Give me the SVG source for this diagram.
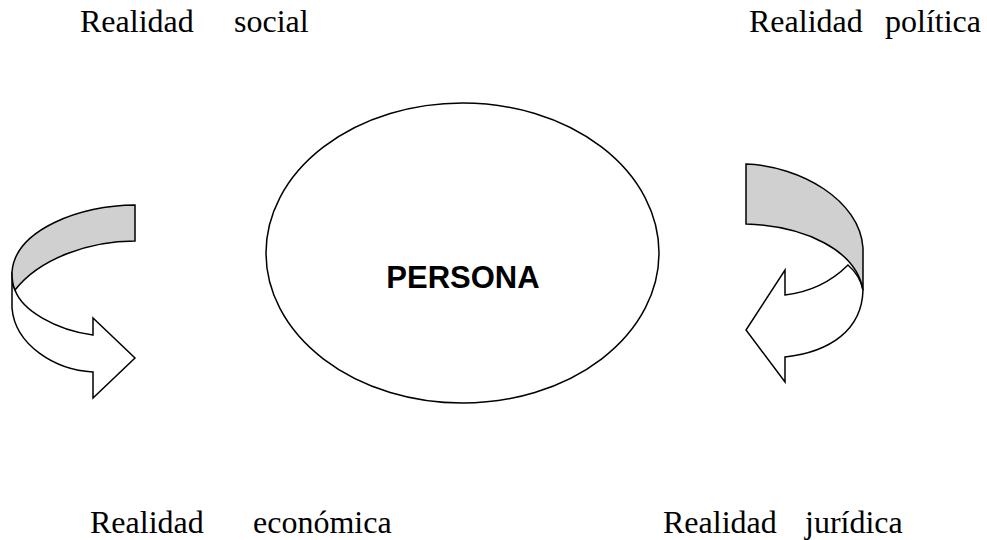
<svg xmlns="http://www.w3.org/2000/svg" width="987" height="540" viewBox="0 0 987 540">
<style>
.lbl{font-family:"Liberation Serif","Times New Roman",serif;font-size:32px;fill:#000}
.ttl{font-family:"Liberation Sans",Arial,sans-serif;font-size:31px;font-weight:bold;fill:#000}
.ln{stroke:#000;stroke-width:1.5;stroke-linejoin:miter}
.gray{fill:#d0d0d0}
.white{fill:#fff}
</style>
<rect width="987" height="540" fill="#fff"/>
<g id="persona">
<ellipse cx="462.5" cy="253" rx="196.5" ry="150" fill="#fff" stroke="#000" stroke-width="1.5"/>
<text class="ttl" x="463" y="288" text-anchor="middle">PERSONA</text>
</g>
<g id="label-social"><text class="lbl" x="80" y="32">Realidad</text><text class="lbl" x="234" y="32">social</text></g>
<g id="label-politica"><text class="lbl" x="749" y="32">Realidad</text><text class="lbl" x="885" y="32">política</text></g>
<g id="label-economica"><text class="lbl" x="90" y="533">Realidad</text><text class="lbl" x="253" y="533">económica</text></g>
<g id="label-juridica"><text class="lbl" x="663" y="533">Realidad</text><text class="lbl" x="805" y="533">jurídica</text></g>
<g id="connectors">
<g id="arrow-left">
<path class="ln white" d="M12,272 L12,308 C15,345 55,370 93,372 L93,398 L135,358 L93,318 L93,335 C55,330 22,310 15,290 C13,286 12,280 12,272 Z"/>
<path class="ln gray" d="M135,205 C80,205 15,230 12,272 C12,280 13,286 15,290 C40,258 90,241 135,241 Z"/>
</g>
<g id="arrow-right">
<path class="ln white" d="M848,265 C830,283 810,292 785,295 L785,270 L746,330 L785,382 L785,357 C830,352 862,330 863,290 C861,280 856,272 848,265 Z"/>
<path class="ln gray" d="M746,164 C800,166 860,200 863,248 L863,290 C856,250 805,226 746,224 Z"/>
</g>
</g>
</svg>
